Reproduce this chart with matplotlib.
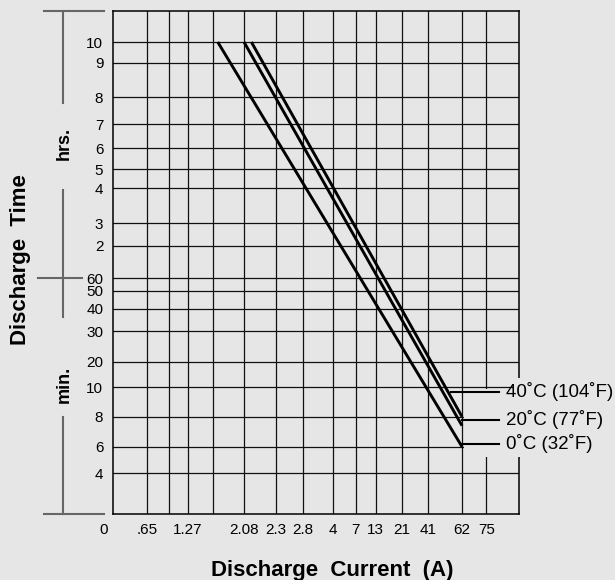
import numpy as np
import matplotlib
matplotlib.use('Agg')
import matplotlib.pyplot as plt
from matplotlib.lines import Line2D
from matplotlib.patches import Rectangle

plt.rcParams['font.family'] = ['Liberation Sans', 'DejaVu Sans']

# --- data ---
current_ticks = [0, 0.65, 1.27, 2.08, 2.3, 2.8, 4, 7, 13, 21, 41, 62, 75]
time_ticks = [4, 6, 8, 10, 20, 30, 40, 50, 60, 120, 180, 240, 300, 360, 420, 480, 540, 600]  # minutes
time_labels = ['4', '6', '8', '10', '20', '30', '40', '50', '60',
               '2', '3', '4', '5', '6', '7', '8', '9', '10']

series = ['0˚C (32˚F)', '20˚C (77˚F)', '40˚C (104˚F)']
start_current = [1.7, 2.08, 2.13]
start_time = [600, 600, 600]
end_current = [62, 62, 62]
end_time = [6, 7.4, 8]
leader_time = [6.2, 7.8, 9.7]
leader_from = [62, 62, 55]

# --- layout of the (non uniform) printed grid, in pixels from the axes corner ---
x_tick_px = [0, 33.7, 75, 131, 163.3, 189.7, 220, 242.7, 262.7, 288.7, 314.7, 349, 373.3]
x_blank_px = [56.3, 100.3]
x_width_px = 405.7
y_tick_px = [41, 67.6, 97.6, 127, 152.6, 183, 205.3, 223.6, 236, 268.6, 291,
             326.3, 345, 366.3, 390.3, 417, 451.6, 472.3]
y_height_px = 503

bg = '#e6e6e6'
W, H = 615, 580


def piecewise(v, xs, ys):
    v = np.asarray(v, dtype=float)
    out = np.interp(v, xs, ys)
    lo = (ys[1] - ys[0]) / (xs[1] - xs[0])
    hi = (ys[-1] - ys[-2]) / (xs[-1] - xs[-2])
    out = np.where(v < xs[0], ys[0] + (v - xs[0]) * lo, out)
    out = np.where(v > xs[-1], ys[-1] + (v - xs[-1]) * hi, out)
    return out


fx = lambda v: piecewise(v, current_ticks, x_tick_px)
ix = lambda p: piecewise(p, x_tick_px, current_ticks)
fy = lambda v: piecewise(v, time_ticks, y_tick_px)
iy = lambda p: piecewise(p, y_tick_px, time_ticks)

fig = plt.figure(figsize=(W / 100, H / 100), dpi=100, facecolor=bg)
ax_left, ax_top = 113, 11.3
ax = fig.add_axes([ax_left / W, 1 - (ax_top + y_height_px) / H, x_width_px / W, y_height_px / H])
ax.set_facecolor(bg)

ax.set_xscale('function', functions=(fx, ix))
ax.set_yscale('function', functions=(fy, iy))
ax.set_xlim(float(ix(0)), float(ix(x_width_px)))
ax.set_ylim(float(iy(0)), float(iy(y_height_px)))

ax.set_xticks(current_ticks[1:])
ax.set_xticklabels([('%g' % c).replace('0.', '.') for c in current_ticks[1:]])
ax.set_xticks(ix(x_blank_px), minor=True)
ax.set_yticks(time_ticks)
ax.set_yticklabels(time_labels)
ax.set_yticks([], minor=True)
ax.grid(which='both', color='#111111', lw=0.9)
ax.tick_params(which='both', length=0, labelsize=11, colors='black')
ax.tick_params(axis='x', pad=6)
ax.tick_params(axis='y', pad=7)
for s in ax.spines.values():
    s.set_color('black')
    s.set_linewidth(1.1)

ax.annotate('0', xy=(0, 0), xycoords=('data', 'axes fraction'), xytext=(-7, -6),
            textcoords='offset points', ha='center', va='top', fontsize=11)

# discharge curves
for i in range(len(series)):
    ax.plot([start_current[i], end_current[i]], [start_time[i], end_time[i]],
            color='black', lw=2.1, solid_capstyle='butt', zorder=3)

# label box over the right edge
ax.add_patch(Rectangle((351 / x_width_px, 57.3 / y_height_px), 80 / x_width_px, 68 / y_height_px,
                       transform=ax.transAxes, fc=bg, ec='none', clip_on=False, zorder=2.6))
ax.add_patch(Rectangle((400 / x_width_px, 57.3 / y_height_px), 10 / x_width_px, 79 / y_height_px,
                       transform=ax.transAxes, fc=bg, ec='none', clip_on=False, zorder=2.6))

leader_end = float(ix(386))
text_x = float(ix(393))
for i in range(len(series)):
    ax.plot([leader_from[i], leader_end], [leader_time[i], leader_time[i]],
            color='black', lw=1.5, clip_on=False, zorder=3)
    ax.text(text_x, leader_time[i], series[i], ha='left', va='center',
            fontsize=13.5, clip_on=False, zorder=4)


# left bracket with hrs. / min.
def px_line(x0, y0, x1, y1):
    fig.add_artist(Line2D([x0 / W, x1 / W], [1 - y0 / H, 1 - y1 / H],
                          transform=fig.transFigure, color='#666666', lw=1.5))


px_line(44, 11.3, 104, 11.3)
px_line(63, 11.3, 63, 103)
px_line(63, 190, 63, 317)
px_line(38, 278.3, 82, 278.3)
px_line(63, 416.7, 63, 514.3)
px_line(44, 514.3, 104, 514.3)
fig.text(64 / W, 1 - 143 / H, 'hrs.', rotation=90, ha='center', va='center',
         fontsize=13, fontweight='bold')
fig.text(64 / W, 1 - 384 / H, 'min.', rotation=90, ha='center', va='center',
         fontsize=13, fontweight='bold')

fig.text(21 / W, 1 - 260 / H, 'Discharge  Time', rotation=90, ha='center', va='center',
         fontsize=16, fontweight='bold')
fig.text(332 / W, 1 - 576 / H, 'Discharge  Current  (A)', ha='center', va='baseline',
         fontsize=16, fontweight='bold')

fig.savefig('out.png', dpi=100, facecolor=bg)
